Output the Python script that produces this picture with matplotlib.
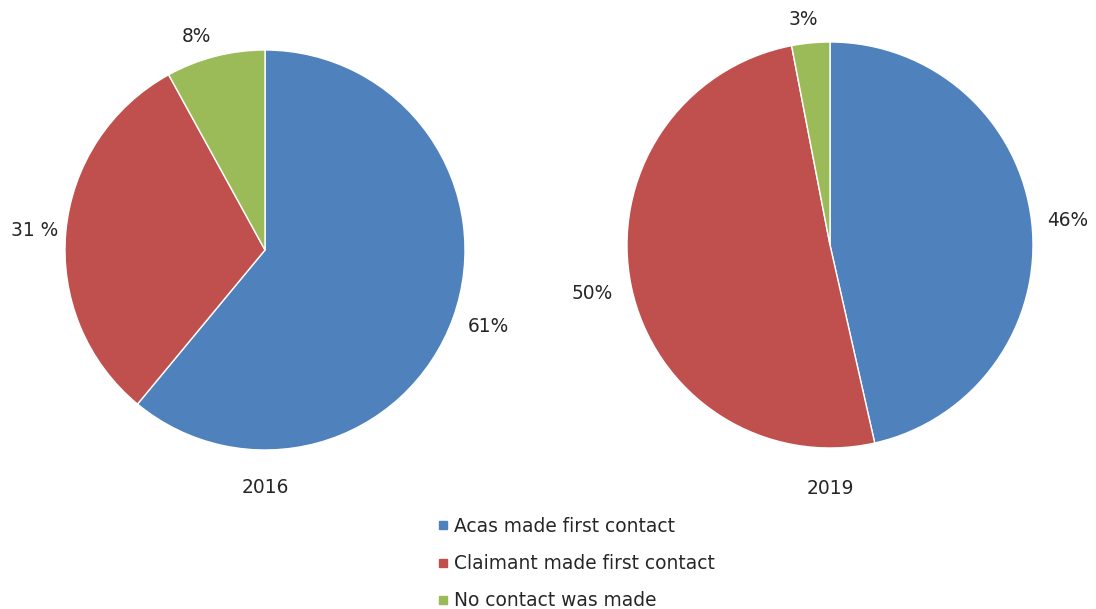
import matplotlib.pyplot as plt
from matplotlib.lines import Line2D

plt.rcParams['font.family'] = ['DejaVu Sans']

categories = ['Acas made first contact', 'Claimant made first contact', 'No contact was made']
colors = ['#4F81BD', '#C0504D', '#9BBB59']
years = ['2016', '2019']
values_2016 = [61, 31, 8]
values_2019 = [46, 50, 3]
labels_2016 = ['61%', '31 %', '8%']
labels_2019 = ['46%', '50%', '3%']

W, H = 1096, 609
fig = plt.figure(figsize=(W / 100, H / 100), dpi=100)
txt = '#262626'
fs = 13.4


def pie_axes(cx, cy, r):
    s = 1.3 * r
    ax = fig.add_axes([(cx - s) / W, (H - cy - s) / H, 2 * s / W, 2 * s / H])
    return ax


def finish(ax):
    ax.set_xlim(-1.3, 1.3)
    ax.set_ylim(-1.3, 1.3)
    ax.set_aspect('equal')
    ax.axis('off')


ax1 = pie_axes(265, 250, 200)
ax1.pie(values_2016, colors=colors, startangle=90, counterclock=False,
        wedgeprops=dict(edgecolor='white', linewidth=1))
finish(ax1)
pos1 = [(1.115, -0.38), (-1.15, 0.1), (-0.345, 1.065)]
for (x, y), lab in zip(pos1, labels_2016):
    ax1.text(x, y, lab, ha='center', va='center', fontsize=fs, color=txt, clip_on=False)
ax1.text(0, -1.19, years[0], ha='center', va='center', fontsize=fs, color=txt)

ax2 = pie_axes(830, 245, 203)
ax2.pie(values_2019, colors=colors, startangle=90, counterclock=False,
        wedgeprops=dict(edgecolor='white', linewidth=1))
finish(ax2)
pos2 = [(1.17, 0.12), (-1.17, -0.24), (-0.13, 1.11)]
for (x, y), lab in zip(pos2, labels_2019):
    ax2.text(x, y, lab, ha='center', va='center', fontsize=fs, color=txt, clip_on=False)
ax2.text(0, -1.2, years[1], ha='center', va='center', fontsize=fs, color=txt)

handles = [Line2D([], [], marker='s', linestyle='none', markersize=6,
                  markerfacecolor=c, markeredgecolor=c) for c in colors]
fig.legend(handles, categories, loc='upper left', bbox_to_anchor=(437 / W, 1 - 517 / H),
           frameon=False, fontsize=fs, labelspacing=0.98, handlelength=0.6,
           handletextpad=0.3, borderpad=0, borderaxespad=0, labelcolor=txt)

fig.savefig('out.png', dpi=100)
